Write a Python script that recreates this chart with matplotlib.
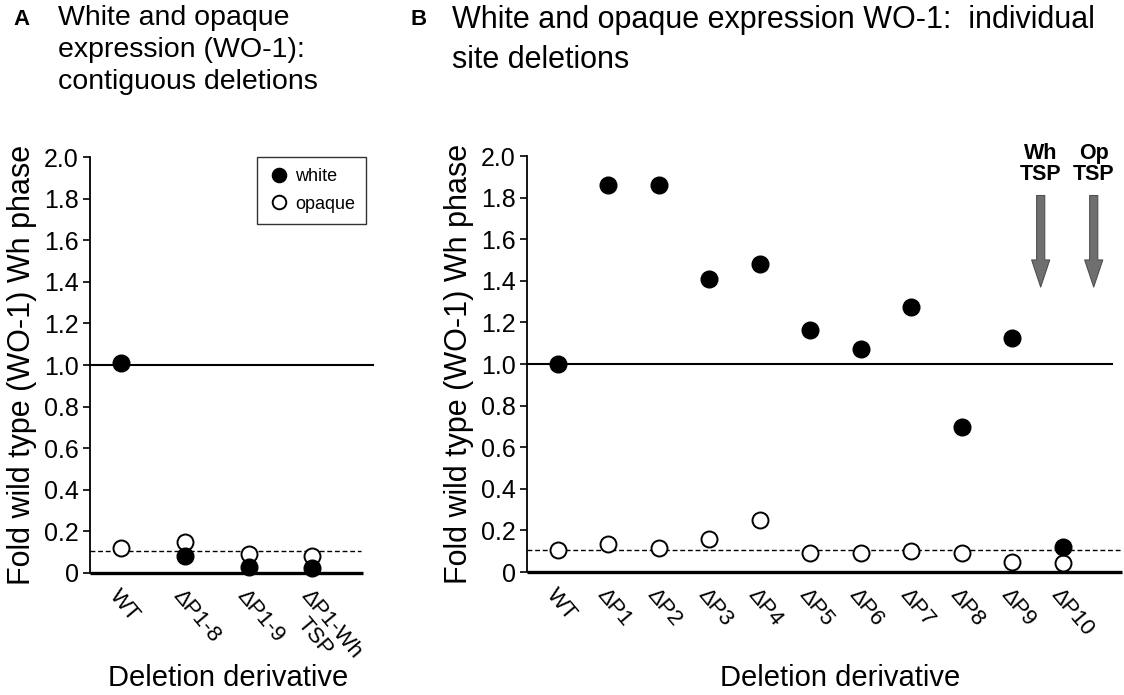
import matplotlib
matplotlib.use("Agg")
import matplotlib.pyplot as plt

plt.rcParams['font.family'] = ['Liberation Sans', 'DejaVu Sans']

# panel A: contiguous deletions
a_labels = ['WT', '\u0394P1-8', '\u0394P1-9', '\u0394P1-Wh\nTSP']
a_white = [1.01, 0.08, 0.03, 0.025]
a_opaque = [0.12, 0.15, 0.09, 0.08]

# panel B: individual site deletions
b_labels = ['WT', '\u0394P1', '\u0394P2', '\u0394P3', '\u0394P4', '\u0394P5',
            '\u0394P6', '\u0394P7', '\u0394P8', '\u0394P9', '\u0394P10']
b_white = [1.0, 1.86, 1.86, 1.41, 1.48, 1.165, 1.07, 1.275, 0.695, 1.125, 0.12]
b_opaque = [0.105, 0.137, 0.113, 0.16, 0.25, 0.09, 0.09, 0.103, 0.09, 0.05, 0.045]

threshold = 0.105
y_ticks = [0, 0.2, 0.4, 0.6, 0.8, 1.0, 1.2, 1.4, 1.6, 1.8, 2.0]
y_ticklabels = ['0', '0.2', '0.4', '0.6', '0.8', '1.0', '1.2', '1.4', '1.6', '1.8', '2.0']

# TSP arrows (x position in panel B units)
tsp_labels = ['Wh\nTSP', 'Op\nTSP']
tsp_x = [9.56, 10.61]

W, H = 1124, 695
fig = plt.figure(figsize=(W / 100, H / 100), dpi=100)


def px_axes(left, right, top, bottom):
    return fig.add_axes([left / W, 1 - bottom / H, (right - left) / W, (bottom - top) / H])


def style_axes(ax, labels, xlim, xaxis_end, line_end, dash_end):
    n = len(labels)
    ax.set_xlim(*xlim)
    ax.set_ylim(0, 2.0)
    for s in ['top', 'right', 'bottom']:
        ax.spines[s].set_visible(False)
    ax.spines['left'].set_linewidth(1.3)
    ax.set_yticks(y_ticks)
    ax.set_yticklabels(y_ticklabels, fontsize=18)
    ax.tick_params(axis='y', direction='out', length=5, width=1.2, pad=3)
    ax.set_xticks(range(n))
    ax.set_xticklabels(labels, fontsize=16, rotation=-50, ha='left', va='top',
                       rotation_mode='anchor', multialignment='center', linespacing=1.0)
    ax.tick_params(axis='x', length=0, pad=9)
    ax.plot([xlim[0], xaxis_end], [0, 0], color='black', lw=2.4, clip_on=False,
            solid_capstyle='butt', zorder=2)
    ax.plot([xlim[0], line_end], [1.0, 1.0], color='black', lw=1.5, clip_on=False,
            zorder=2)
    ax.plot([xlim[0], dash_end], [threshold, threshold], color='black', lw=1.0,
            dashes=(3.5, 2), clip_on=False, zorder=2)
    ax.set_ylabel('Fold wild type (WO-1) Wh phase', fontsize=22, labelpad=5)


def draw_points(ax, white, opaque):
    x = range(len(white))
    ax.plot(x, opaque, 'o', ls='none', ms=11.5, mfc='white', mec='black', mew=1.4,
            clip_on=False, zorder=3, label='opaque')
    ax.plot(x, white, 'o', ls='none', ms=12, mfc='black', mec='black',
            clip_on=False, zorder=4, label='white')


axA = px_axes(90, 373, 157, 573)
style_axes(axA, a_labels, (-0.49, 3.95), 3.8, 3.95, 3.76)
draw_points(axA, a_white, a_opaque)
h, l = axA.get_legend_handles_labels()
leg = axA.legend(h[::-1], l[::-1], loc='upper right', bbox_to_anchor=(0.975, 1.0),
                 borderaxespad=0, fontsize=13, markerscale=0.85, frameon=True,
                 fancybox=False, handletextpad=0.3, handlelength=1.2, borderpad=0.6,
                 labelspacing=0.6)
leg.get_frame().set_edgecolor('black')
leg.get_frame().set_linewidth(1.0)

axB = px_axes(527, 1122, 156, 572)
style_axes(axB, b_labels, (-0.61, 11.17), 11.17, 10.97, 11.15)
draw_points(axB, b_white, b_opaque)

for label, x in zip(tsp_labels, tsp_x):
    axB.annotate('', xy=(x, 1.37), xytext=(x, 1.81),
                 arrowprops=dict(arrowstyle='simple,head_length=1.5,head_width=1.0,tail_width=0.45',
                                 fc='#6f6f6f', ec='#505050', lw=0.8, mutation_scale=13,
                                 shrinkA=0, shrinkB=0))
    axB.text(x, 1.86, label, ha='center', va='bottom', fontsize=15.5, fontweight='bold',
             linespacing=1.0, clip_on=False)

# panel letters and titles
fig.text(13 / W, 1 - 9 / H, 'A', fontsize=16, fontweight='bold', va='top')
fig.text(58 / W, 1 - 5 / H, 'White and opaque\nexpression (WO-1):\ncontiguous deletions',
         fontsize=20.5, va='top', linespacing=1.3)
fig.text(411 / W, 1 - 9 / H, 'B', fontsize=16, fontweight='bold', va='top')
fig.text(452 / W, 1 - 5 / H, 'White and opaque expression WO-1:  individual\nsite deletions',
         fontsize=22, va='top', linespacing=1.45)

fig.text(228 / W, 1 - 678 / H, 'Deletion derivative', fontsize=21, ha='center', va='center')
fig.text(840 / W, 1 - 678 / H, 'Deletion derivative', fontsize=21, ha='center', va='center')

fig.savefig('out.png', dpi=100)
